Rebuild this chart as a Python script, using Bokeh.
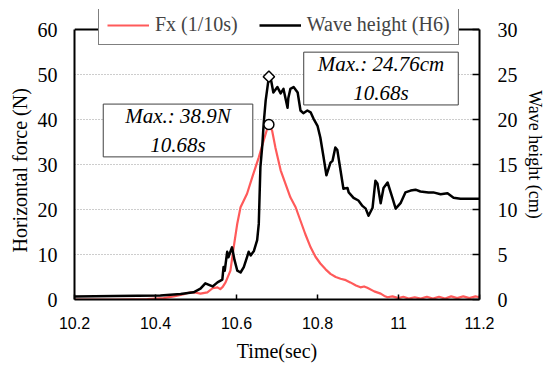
import math
from bokeh.plotting import figure
from bokeh.models import (Range1d, LinearAxis, FixedTicker, Legend, LegendItem,
                          Label, Span, Title)
from bokeh.embed import file_html
from bokeh.resources import INLINE

# ---------------- data ----------------
fx_time = [10.200, 10.300, 10.380, 10.420, 10.445, 10.470, 10.486, 10.500, 10.511,
           10.528, 10.541, 10.553, 10.560, 10.566, 10.573, 10.585, 10.593, 10.602,
           10.610, 10.626, 10.639, 10.655, 10.667, 10.676, 10.680, 10.688, 10.696,
           10.709, 10.721, 10.733, 10.746, 10.758, 10.770, 10.783, 10.795, 10.807,
           10.820, 10.832, 10.845, 10.857, 10.870, 10.881, 10.895, 10.906, 10.915,
           10.923, 10.940, 10.956, 10.965, 10.973, 10.985, 11.000, 11.012, 11.025,
           11.040, 11.055, 11.070, 11.085, 11.100, 11.115, 11.130, 11.145, 11.160,
           11.175, 11.190, 11.200]
fx_newton = [0.0, 0.0, 0.1, 0.3, 0.7, 1.2, 1.6, 1.5, 1.3,
             1.6, 2.5, 2.7, 2.3, 2.8, 3.8, 6.4, 11.6, 16.9,
             20.5, 23.5, 27.2, 31.6, 35.3, 38.0, 38.9, 37.5, 33.8,
             28.7, 25.7, 22.7, 20.5, 17.5, 14.5, 11.6, 9.5, 8.0,
             6.7, 5.7, 5.0, 4.6, 4.3, 3.8, 3.1, 2.7, 2.9,
             2.6, 1.8, 1.3, 0.8, 0.5, 0.7, 0.3, 0.6, 0.2,
             0.5, 0.2, 0.6, 0.2, 0.6, 0.2, 0.7, 0.3, 0.7,
             0.3, 0.7, 0.5]

wave_time = [10.200, 10.300, 10.412, 10.462, 10.494, 10.511, 10.523, 10.541, 10.553,
             10.565, 10.568, 10.571, 10.577, 10.580, 10.589, 10.595, 10.602, 10.610,
             10.618, 10.626, 10.630, 10.635, 10.643, 10.651, 10.655, 10.659, 10.664,
             10.667, 10.672, 10.680, 10.684, 10.691, 10.701, 10.709, 10.716, 10.726,
             10.728, 10.733, 10.741, 10.751, 10.758, 10.765, 10.775, 10.783, 10.790,
             10.800, 10.807, 10.815, 10.822, 10.832, 10.837, 10.844, 10.849, 10.857,
             10.864, 10.874, 10.877, 10.889, 10.901, 10.911, 10.919, 10.926, 10.936,
             10.943, 10.948, 10.956, 10.963, 10.973, 10.985, 10.993, 11.005, 11.017,
             11.030, 11.042, 11.054, 11.074, 11.086, 11.104, 11.121, 11.136, 11.153,
             11.170, 11.200]
wave_cm = [0.33, 0.40, 0.45, 0.60, 0.80, 1.20, 1.80, 1.45, 1.90,
           2.20, 3.60, 3.20, 5.30, 4.70, 5.80, 4.40, 3.20, 3.00,
           3.60, 4.70, 5.30, 4.90, 5.40, 6.60, 8.40, 14.70, 17.30,
           19.50, 22.10, 24.76, 24.70, 23.00, 23.60, 22.90, 23.40, 21.30,
           22.40, 23.40, 23.60, 23.00, 21.00, 20.70, 21.00, 20.80, 20.10,
           19.30, 18.00, 15.80, 13.80, 15.20, 15.40, 16.90, 16.60, 14.30,
           12.30, 12.40, 11.90, 11.30, 11.00, 10.40, 10.10, 9.30, 10.20,
           13.20, 12.90, 10.70, 12.40, 13.00, 11.30, 10.10, 10.70, 11.90,
           12.10, 12.20, 12.00, 11.90, 11.90, 11.70, 11.80, 11.30, 11.20,
           11.20, 11.20]

x_ticks = [10.2, 10.4, 10.6, 10.8, 11.0, 11.2]
x_tick_labels = ["10.2", "10.4", "10.6", "10.8", "11", "11.2"]
force_ticks = [0, 10, 20, 30, 40, 50, 60]
wave_ticks = [0, 5, 10, 15, 20, 25, 30]

peak_time = 10.68
peak_force = 38.9
peak_wave = 24.76

SERIF = "Liberation Serif"
SANS = "Liberation Sans"

# layout: the drawing frame reaches up to the legend top, the chart box is
# the lower PLOT_H pixels of it
FRAME_H = 290
PLOT_H = 270
force_top = force_ticks[-1] * FRAME_H / PLOT_H
wave_top = wave_ticks[-1] * FRAME_H / PLOT_H

# ---------------- figure ----------------
p = figure(width=548, height=367, output_backend="svg", toolbar_location=None,
           x_range=Range1d(x_ticks[0], x_ticks[-1]), y_range=Range1d(0, force_top),
           min_border_left=74, min_border_right=69, min_border_top=9,
           min_border_bottom=68,
           x_axis_label="Time(sec)")
p.extra_y_ranges = {"wave": Range1d(0, wave_top)}
p.background_fill_color = "white"
p.border_fill_color = "white"
p.outline_line_color = None

p.xgrid.visible = False
p.ygrid.ticker = FixedTicker(ticks=force_ticks[1:-1])
p.ygrid.grid_line_color = "#9a9a9a"
p.ygrid.grid_line_dash = "1 2"
p.ygrid.grid_line_width = 1

right_axis = LinearAxis(y_range_name="wave", ticker=FixedTicker(ticks=wave_ticks),
                        axis_label="Wave height (cm)",
                        bounds=(wave_ticks[0], wave_ticks[-1]))
p.add_layout(right_axis, "right")

xa = p.xaxis[0]
ya = p.yaxis[0]
for ax in (xa, ya, right_axis):
    ax.axis_line_color = "black"
    ax.axis_line_width = 2
    ax.major_tick_line_color = "black"
    ax.major_tick_line_width = 1.5
    ax.minor_tick_line_color = None
    ax.major_label_text_color = "black"
    ax.axis_label_text_color = "black"
    ax.axis_label_text_font_style = "normal"
    ax.axis_label_text_font = SERIF

xa.ticker = FixedTicker(ticks=x_ticks)
xa.major_label_overrides = dict(zip(x_ticks, x_tick_labels))
xa.major_label_text_font = SANS
xa.major_label_text_font_size = "16px"
xa.major_tick_in = 5
xa.major_tick_out = 0
xa.major_label_standoff = 17
xa.axis_label_text_font_size = "20px"
xa.axis_label_standoff = 8

ya.ticker = FixedTicker(ticks=force_ticks)
ya.bounds = (force_ticks[0], force_ticks[-1])
ya.major_label_text_font = SERIF
ya.major_label_text_font_size = "20px"
ya.major_tick_in = 0
ya.major_tick_out = 0
ya.major_label_standoff = 17

right_axis.major_label_text_font = SERIF
right_axis.major_label_text_font_size = "20px"
right_axis.major_tick_in = 7
right_axis.major_tick_out = 0
right_axis.major_label_standoff = 18
right_axis.axis_label_text_font_size = "18px"
right_axis.axis_label_standoff = 4

# left axis title, centred on the chart box rather than on the whole frame
left_title = Title(text="Horizontal force (N)", align="left", offset=47,
                   standoff=7, vertical_align="bottom",
                   text_font=SERIF, text_font_size="20px",
                   text_font_style="normal", text_color="black")
p.add_layout(left_title, "left")

# top edge of the chart box
top_edge = Span(location=force_ticks[-1], dimension="width",
                line_color="black", line_width=2)
p.add_layout(top_edge)

# ---------------- series ----------------
r_fx = p.line(fx_time, fx_newton, line_color="#ff5a5a", line_width=2.2,
              line_join="round")
r_wh = p.line(wave_time, wave_cm, line_color="black", line_width=2.5,
              line_join="round", y_range_name="wave")

p.scatter([peak_time], [peak_force], marker="circle", size=10,
          fill_color="white", line_color="black", line_width=1.5)
p.scatter([peak_time], [peak_wave], marker="square", angle=math.pi / 4, size=8,
          fill_color="white", line_color="black", line_width=1.5,
          y_range_name="wave")

# ---------------- legend ----------------
legend = Legend(items=[LegendItem(label="Fx (1/10s)", renderers=[r_fx]),
                       LegendItem(label="Wave height (H6)", renderers=[r_wh])],
                location=(24, 254), orientation="horizontal", margin=0,
                padding=8, spacing=21, glyph_width=42, glyph_height=20,
                label_standoff=6, label_height=20,
                label_text_font=SERIF, label_text_font_size="20px",
                border_line_color="black", border_line_width=1.5,
                background_fill_color="white", background_fill_alpha=1.0)
p.add_layout(legend)

# ---------------- annotations ----------------
lab1 = Label(x=10.4556, y=37.56, text=f"Max.: {peak_force}N\n{peak_time}s",
             text_align="center", text_baseline="middle",
             text_font=SERIF, text_font_style="italic", text_font_size="21px",
             text_color="black",
             border_line_color="#404040", border_line_width=1,
             background_fill_color="white", padding=dict(x=22, y=0))
lab2 = Label(x=10.9568, y=49.1, text=f"Max.: {peak_wave}cm\n{peak_time}s",
             text_align="center", text_baseline="middle",
             text_font=SERIF, text_font_style="italic", text_font_size="21px",
             text_color="black",
             border_line_color="#404040", border_line_width=1,
             background_fill_color="white", padding=dict(x=14, y=0))
p.add_layout(lab1)
p.add_layout(lab2)

open("out.html", "w").write(file_html(p, INLINE))
